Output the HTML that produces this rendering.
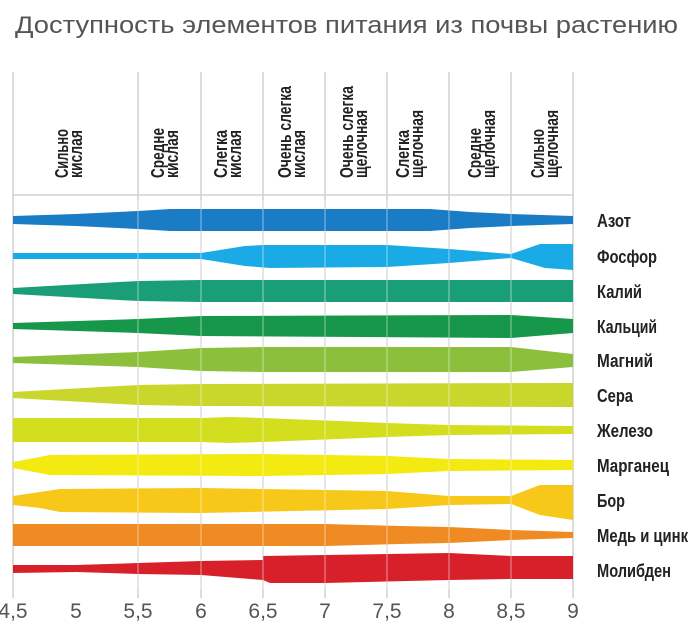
<!DOCTYPE html>
<html><head><meta charset="utf-8"><style>
html,body{margin:0;padding:0;background:#fff;}
svg{display:block;}
.h{font-family:"Liberation Sans Narrow","Liberation Sans",sans-serif;font-weight:bold;font-size:18px;fill:#222;}
.r{font-family:"Liberation Sans Narrow","Liberation Sans",sans-serif;font-weight:bold;font-size:18px;fill:#222;}
.t{font-family:"Liberation Sans Narrow","Liberation Sans",sans-serif;font-size:21px;fill:#555;text-anchor:middle;}
</style></head><body>
<svg width="700" height="625" viewBox="0 0 700 625" xmlns="http://www.w3.org/2000/svg">
<text x="15" y="33" textLength="663" lengthAdjust="spacingAndGlyphs" style="font-family:'Liberation Sans',sans-serif;font-size:24px;fill:#555">Доступность элементов питания из почвы растению</text>
<g stroke="#d0d0d0" stroke-width="1.5">
<line x1="13" y1="72" x2="13" y2="598"/><line x1="138" y1="72" x2="138" y2="598"/><line x1="201" y1="72" x2="201" y2="598"/><line x1="263" y1="72" x2="263" y2="598"/><line x1="325" y1="72" x2="325" y2="598"/><line x1="387" y1="72" x2="387" y2="598"/><line x1="449" y1="72" x2="449" y2="598"/><line x1="511" y1="72" x2="511" y2="598"/><line x1="573" y1="72" x2="573" y2="598"/>
<line x1="13" y1="195" x2="573" y2="195"/>
</g>
<g class="h">
<text transform="translate(68,178) rotate(-90)" textLength="49" lengthAdjust="spacingAndGlyphs">Сильно</text><text transform="translate(82,178) rotate(-90)" textLength="48" lengthAdjust="spacingAndGlyphs">кислая</text>
<text transform="translate(164,178) rotate(-90)" textLength="50" lengthAdjust="spacingAndGlyphs">Средне</text><text transform="translate(178,178) rotate(-90)" textLength="48" lengthAdjust="spacingAndGlyphs">кислая</text>
<text transform="translate(227,178) rotate(-90)" textLength="48" lengthAdjust="spacingAndGlyphs">Слегка</text><text transform="translate(241,178) rotate(-90)" textLength="48" lengthAdjust="spacingAndGlyphs">кислая</text>
<text transform="translate(291,178) rotate(-90)" textLength="92" lengthAdjust="spacingAndGlyphs">Очень слегка</text><text transform="translate(305,178) rotate(-90)" textLength="48" lengthAdjust="spacingAndGlyphs">кислая</text>
<text transform="translate(353,178) rotate(-90)" textLength="92" lengthAdjust="spacingAndGlyphs">Очень слегка</text><text transform="translate(367,178) rotate(-90)" textLength="68" lengthAdjust="spacingAndGlyphs">щелочная</text>
<text transform="translate(409,178) rotate(-90)" textLength="48" lengthAdjust="spacingAndGlyphs">Слегка</text><text transform="translate(423,178) rotate(-90)" textLength="68" lengthAdjust="spacingAndGlyphs">щелочная</text>
<text transform="translate(481,178) rotate(-90)" textLength="50" lengthAdjust="spacingAndGlyphs">Средне</text><text transform="translate(495,178) rotate(-90)" textLength="68" lengthAdjust="spacingAndGlyphs">щелочная</text>
<text transform="translate(544,178) rotate(-90)" textLength="49" lengthAdjust="spacingAndGlyphs">Сильно</text><text transform="translate(558,178) rotate(-90)" textLength="68" lengthAdjust="spacingAndGlyphs">щелочная</text>
</g>
<g>
<path fill="#1a7cc4" d="M13,216 L76,214 L138,211 L170,209 L430,209 L470,212 L511,214 L573,216 L573,224 L511,226 L470,228 L430,231 L170,231 L138,229 L76,226 L13,224 Z"/>
<path fill="#1aaae5" d="M13,253 L201,253 L245,246 L263,245 L387,245 L449,249 L511,254 L540,244 L573,244 L573,270 L545,268 L511,258 L449,263 L387,267 L270,268 L245,266 L201,259 L13,259 Z"/>
<path fill="#1a9e78" d="M13,288 L138,281 L201,280 L573,280 L573,302 L201,302 L138,301 L13,294 Z"/>
<path fill="#17974a" d="M13,323 L138,319 L201,316 L511,315 L573,319 L573,333 L511,338 L201,336 L138,333 L13,329 Z"/>
<path fill="#8cbf3c" d="M13,357 L138,352 L201,348 L263,347 L511,347 L573,354 L573,367 L511,372 L263,372 L201,371 L138,367 L13,363 Z"/>
<path fill="#c9d62c" d="M13,392 L138,385 L201,384 L573,383 L573,407 L201,406 L138,405 L13,398 Z"/>
<path fill="#d3df1e" d="M13,418 L201,418 L230,417 L263,418 L387,423 L449,425 L573,426 L573,434 L449,435 L387,437 L263,442 L230,443 L201,442 L13,442 Z"/>
<path fill="#f2ea10" d="M13,462 L50,455 L263,454 L387,456 L449,459 L573,460 L573,470 L449,471 L387,474 L263,476 L50,475 L13,468 Z"/>
<path fill="#f7c81a" d="M13,496 L40,492 L60,489 L201,488 L387,491 L449,496 L511,496 L540,485 L573,485 L573,520 L540,515 L511,504 L449,505 L387,509 L201,513 L60,512 L40,508 L13,505 Z"/>
<path fill="#ef8b22" d="M13,524 L325,524 L400,526 L449,527 L511,530 L573,532 L573,538 L511,540 L449,543 L400,544 L325,546 L13,546 Z"/>
<path fill="#d8202a" d="M13,565 L76,565 L138,563 L201,561 L263,560 L263,556 L325,555 L449,553 L511,556 L573,556 L573,579 L511,579 L449,580 L325,583 L270,583 L263,580 L201,575 L138,574 L76,572 L13,573 Z"/>
</g>
<g stroke="#ffffff" stroke-opacity="0.35" stroke-width="1.5">
<line x1="138" y1="200" x2="138" y2="590"/><line x1="201" y1="200" x2="201" y2="590"/><line x1="263" y1="200" x2="263" y2="590"/><line x1="325" y1="200" x2="325" y2="590"/><line x1="387" y1="200" x2="387" y2="590"/><line x1="449" y1="200" x2="449" y2="590"/><line x1="511" y1="200" x2="511" y2="590"/>
</g>
<g class="r">
<text x="597" y="227" textLength="34" lengthAdjust="spacingAndGlyphs">Азот</text>
<text x="597" y="263" textLength="60" lengthAdjust="spacingAndGlyphs">Фосфор</text>
<text x="597" y="298" textLength="45" lengthAdjust="spacingAndGlyphs">Калий</text>
<text x="597" y="333" textLength="60" lengthAdjust="spacingAndGlyphs">Кальций</text>
<text x="597" y="367" textLength="56" lengthAdjust="spacingAndGlyphs">Магний</text>
<text x="597" y="402" textLength="36" lengthAdjust="spacingAndGlyphs">Сера</text>
<text x="597" y="437" textLength="56" lengthAdjust="spacingAndGlyphs">Железо</text>
<text x="597" y="472" textLength="72" lengthAdjust="spacingAndGlyphs">Марганец</text>
<text x="597" y="507" textLength="28" lengthAdjust="spacingAndGlyphs">Бор</text>
<text x="597" y="542" textLength="91" lengthAdjust="spacingAndGlyphs">Медь и цинк</text>
<text x="597" y="577" textLength="74" lengthAdjust="spacingAndGlyphs">Молибден</text>
</g>
<g class="t">
<text x="13" y="618">4,5</text><text x="76" y="618">5</text><text x="138" y="618">5,5</text><text x="201" y="618">6</text><text x="263" y="618">6,5</text><text x="325" y="618">7</text><text x="387" y="618">7,5</text><text x="449" y="618">8</text><text x="511" y="618">8,5</text><text x="573" y="618">9</text>
</g>
</svg>
</body></html>
